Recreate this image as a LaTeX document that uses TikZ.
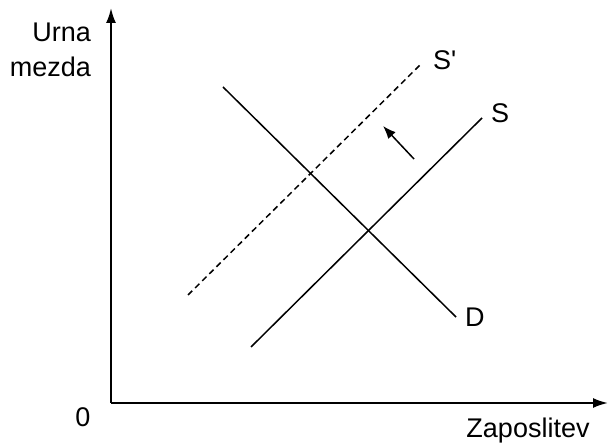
\documentclass[tikz,border=0pt]{standalone}
\usepackage{fontspec}
\setmainfont{Liberation Sans}
\usetikzlibrary{arrows.meta}

\begin{document}
\begin{tikzpicture}[x=1pt, y=1pt,
				>={Latex[length=15pt,width=10pt]},   %Pfeilspitzen
				font=\fontsize{27}{32}\selectfont,
				achse/.style={->, line width=2pt},
				kurve/.style={line width=1.5pt},
				etikett/.style={inner sep=0pt, anchor=base west}]
				\useasboundingbox (0,0) rectangle (609,446);
				% Achsen
				\coordinate (O) at (111,43);
				\coordinate (ymax) at (111,438);
				\coordinate (xmax) at (608,43);
				\draw[achse] (O) -- (ymax);
				\draw[achse] (O) -- (xmax);
				% Achsen beschriften
				\node[inner sep=0pt, anchor=base east] (urna) at (91,404) {Urna};
				\node[inner sep=0pt, anchor=base east] (mezda) at (91,369) {mezda};
				\node[inner sep=0pt, anchor=base] (null) at (83,19) {0};
				\node[inner sep=0pt, anchor=base] (zaposlitev) at (528,9) {Zaposlitev};
				% Angebot und Nachfrage
				\coordinate (S1) at (251,99);   \coordinate (S2) at (482,328);
				\coordinate (D1) at (223,359);  \coordinate (D2) at (456,129);
				\coordinate (Sn1) at (188,151); \coordinate (Sn2) at (422,383);
				\draw[kurve] (S1) -- (S2);
				\draw[kurve] (D1) -- (D2);
				\draw[kurve, dash pattern=on 6pt off 4pt] (Sn1) -- (Sn2);
				\node[etikett] (S) at (491,323) {S};
				\node[etikett] (D) at (465,119) {D};
				\node[etikett] (Sn) at (433,376) {S\textquotesingle};
				% Verschiebung
				\coordinate (P1) at (414,287);
				\coordinate (P2) at (383,320);
				\draw[->, kurve, >={Latex[length=13pt,width=10pt]}] (P1) -- (P2);
			\end{tikzpicture}
\end{document}
